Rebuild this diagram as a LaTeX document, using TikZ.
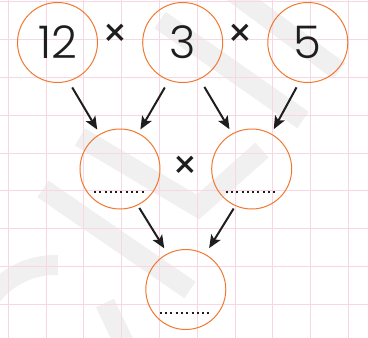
\documentclass[tikz,border=0pt]{standalone}
\usepackage{fontspec}
\setmainfont{Poppins}
\newfontfamily\digitfont{Poppins}[UprightFont={* Light}]
\usetikzlibrary{arrows.meta}
\definecolor{ringorange}{RGB}{240,120,48}
\definecolor{gridpink}{RGB}{248,214,228}
\definecolor{inkblack}{RGB}{30,30,30}
\definecolor{markgray}{RGB}{240,240,240}

\begin{document}
\begin{tikzpicture}[x=1pt, y=-1pt,
    ring/.style={circle, draw=ringorange, line width=1pt, minimum size=80pt, inner sep=0pt, text=inkblack, font=\digitfont\fontsize{45}{45}\selectfont},
    times/.style={text=inkblack, inner sep=0pt, font=\fontsize{40}{40}\selectfont},
    arr/.style={-{Stealth[length=13pt, width=11pt, inset=3pt]}, inkblack, line width=2pt},
    blank/.style={inkblack, line width=2pt, dash pattern=on 2pt off 3.3pt},
    band/.style={markgray, line width=20pt}]
    % Fix the page area (368 x 338, y runs downwards)
    \useasboundingbox (0,0) rectangle (368,338);
    \clip (0,0) rectangle (368,338);

    % Faint watermark strokes
    \draw[band] (160,20) -- (303,120);
    \draw[band] (230,-10) -- (339,71);
    \draw[band, line join=miter] (80,137) -- (198,207) -- (262,150);
    \draw[band] (43,189) -- (190,290);
    \draw[band] (105,303) -- (125,345);
    \draw[band] (55,345) ++(-150:80) arc[start angle=-150, end angle=-88, radius=80];

    % Pink squared paper
    \foreach \gx in {0,...,9}
        \draw[gridpink, line width=1.1pt] ({8.3+37.8*\gx},0) -- ({8.3+37.8*\gx},338);
    \foreach \gy in {0,...,8}
        \draw[gridpink, line width=1.1pt] (0,{1.9+37.8*\gy}) -- (368,{1.9+37.8*\gy});

    % Top row: the three factors
    \node[ring] (n12) at (57.5,42.5) {12};
    \node[ring] (n3) at (182.7,42.5) {3};
    \node[ring] (n5) at (307.8,42.5) {5};
    \node[times] (x1) at (115,36) {×};
    \node[times] (x2) at (240,36) {×};

    % Middle row: two partial products
    \node[ring] (left) at (120,169) {};
    \node[ring] (right) at (251.7,169) {};
    \node[times] (x3) at (185.7,168.3) {×};

    % Bottom: the result
    \node[ring] (result) at (185.8,289.5) {};

    % Arrows down the tree
    \draw[arr, shorten <=7pt, shorten >=5pt] (n12.-74) -- (left.120);
    \draw[arr, shorten <=8pt, shorten >=4pt] (n3.-110) -- (left.63);
    \draw[arr, shorten <=9pt, shorten >=5pt] (n3.-65) -- (right.119);
    \draw[arr, shorten <=6pt, shorten >=5pt] (n5.-102) -- (right.61);
    \draw[arr, shorten <=3pt, shorten >=6pt] (left.-64) -- (result.117);
    \draw[arr, shorten <=3pt, shorten >=7pt] (right.-114) -- (result.61);

    % Dotted answer lines
    \draw[blank] ([xshift=-26pt, yshift=-23.3pt]left.center) -- ([xshift=26pt, yshift=-23.3pt]left.center);
    \draw[blank] ([xshift=-26pt, yshift=-23.3pt]right.center) -- ([xshift=26pt, yshift=-23.3pt]right.center);
    \draw[blank] ([xshift=-26pt, yshift=-23.8pt]result.center) -- ([xshift=26pt, yshift=-23.8pt]result.center);
\end{tikzpicture}
\end{document}
